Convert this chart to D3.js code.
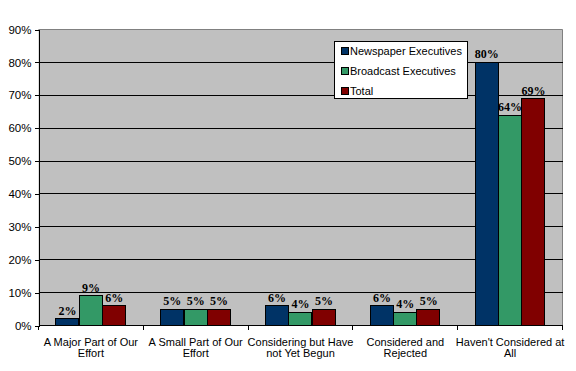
<!DOCTYPE html>
<html><head><meta charset="utf-8">
<script src="https://cdn.jsdelivr.net/npm/d3@7"></script>
<style>
html,body{margin:0;padding:0;background:#fff;}
svg{display:block;}
</style>
</head><body>
<svg id="c" width="576" height="371"></svg>
<script>
const categories = ["A Major Part of Our Effort","A Small Part of Our Effort","Considering but Have not Yet Begun","Considered and Rejected","Haven't Considered at All"];
const seriesNames = ["Newspaper Executives","Broadcast Executives","Total"];
const newspaper = [2,5,6,6,80];
const broadcast = [9,5,4,4,64];
const total = [6,5,5,5,69];
const yTicks = [0,10,20,30,40,50,60,70,80,90];
const colors = ["#003366","#339966","#800000"];

const seriesValues = [newspaper, broadcast, total];
const svg = d3.select("#c");
const L = 38.5, R = 562.5, T = 29.5, B = 325.5;

const y = d3.scaleLinear().domain([0,90]).range([B, T]);
const x = d3.scaleBand().domain(categories).range([L, R]).padding(0);
const xs = d3.scaleBand().domain(seriesNames).range([0, x.bandwidth()]).paddingInner(0).paddingOuter(0.74);
const crisp = v => Math.round(v - 0.5) + 0.5;

// plot background
svg.append("rect").attr("x", L).attr("y", T).attr("width", R-L).attr("height", B-T).attr("fill", "#c0c0c0");
// border top/right gray
svg.append("path").attr("d", `M${L},${T}H${R}V${B}`).attr("fill","none").attr("stroke","#808080");

// gridlines
svg.append("g").selectAll("line").data(yTicks.filter(t=>t>0 && t<90)).join("line")
  .attr("x1", L).attr("x2", R).attr("y1", d=>crisp(y(d))).attr("y2", d=>crisp(y(d)))
  .attr("stroke","#000").attr("shape-rendering","crispEdges");

// y axis
const yAxis = d3.axisLeft(y).tickValues(yTicks).tickFormat(d=>d+"%").tickSize(4).tickPadding(3);
const gy = svg.append("g").attr("transform", `translate(${L},0)`).call(yAxis);
gy.select(".domain").attr("stroke","#000").attr("shape-rendering","crispEdges");
gy.selectAll(".tick line").attr("stroke","#000").attr("shape-rendering","crispEdges");
gy.selectAll("text").attr("font-family","'Liberation Sans', Arial, sans-serif").attr("font-size","11.5px").attr("fill","#000");

// bars
const groups = svg.append("g").selectAll("g").data(seriesNames).join("g").attr("fill",(d,i)=>colors[i]);
groups.each(function(s, si){
  const g = d3.select(this);
  const vals = seriesValues[si];
  g.selectAll("rect").data(categories).join("rect")
    .attr("x", (c)=> crisp(x(c) + xs(s)))
    .attr("width", Math.round(xs.bandwidth()))
    .attr("y", (c,i)=> crisp(y(vals[i])))
    .attr("height", (c,i)=> crisp(B) - crisp(y(vals[i])))
    .attr("stroke","#000").attr("stroke-width",1).attr("shape-rendering","crispEdges");
  g.selectAll("text").data(categories).join("text")
    .attr("x", (c)=> x(c) + xs(s) + xs.bandwidth()/2)
    .attr("y", (c,i)=> y(vals[i]) - 4)
    .attr("text-anchor","middle")
    .attr("font-family","'Liberation Serif', 'Times New Roman', serif")
    .attr("font-weight","bold")
    .attr("font-size","12px")
    .attr("fill","#000")
    .text((c,i)=> vals[i]+"%");
});

// x axis
const xAxisLine = svg.append("g").attr("shape-rendering","crispEdges");
xAxisLine.append("line").attr("x1",L).attr("x2",R).attr("y1",crisp(B)).attr("y2",crisp(B)).attr("stroke","#000");
const bounds = categories.map(c=>x(c)).concat([R]);
xAxisLine.selectAll("line.t").data(bounds).join("line").attr("class","t")
  .attr("x1",d=>crisp(d)).attr("x2",d=>crisp(d)).attr("y1",crisp(B)).attr("y2",crisp(B)+4).attr("stroke","#000");

// category labels with wrapping
const labels = svg.append("g").selectAll("text").data(categories).join("text")
  .attr("text-anchor","middle")
  .attr("font-family","'Liberation Sans', Arial, sans-serif")
  .attr("font-size","11px").attr("fill","#000")
  .attr("transform", c=>`translate(${x(c)+x.bandwidth()/2},345.5)`);
labels.each(function(c){
  const t = d3.select(this);
  const words = c.split(" ");
  let line = [], lines = [];
  const tmp = t.append("tspan");
  words.forEach(w=>{
    const test = line.concat([w]).join(" ");
    tmp.text(test);
    if (tmp.node().getComputedTextLength() > 110 && line.length) { lines.push(line.join(" ")); line=[w]; }
    else line.push(w);
  });
  lines.push(line.join(" "));
  tmp.remove();
  lines.forEach((ln,i)=> t.append("tspan").attr("x",0).attr("y", i*11).text(ln));
});

// legend
const lg = svg.append("g");
lg.append("rect").attr("x",334.5).attr("y",41.5).attr("width",133).attr("height",57).attr("fill","#fff").attr("stroke","#000").attr("shape-rendering","crispEdges");
const li = lg.selectAll("g").data(seriesNames).join("g").attr("transform",(d,i)=>`translate(341,${51 + i*20})`);
li.append("rect").attr("x",0.5).attr("y",-3.5).attr("width",7).attr("height",7).attr("fill",(d,i)=>colors[i]).attr("stroke","#000").attr("shape-rendering","crispEdges");
li.append("text").attr("x",9).attr("y",4).attr("font-family","'Liberation Sans', Arial, sans-serif").attr("font-size","11px").attr("fill","#000").text(d=>d);
</script>
</body></html>
